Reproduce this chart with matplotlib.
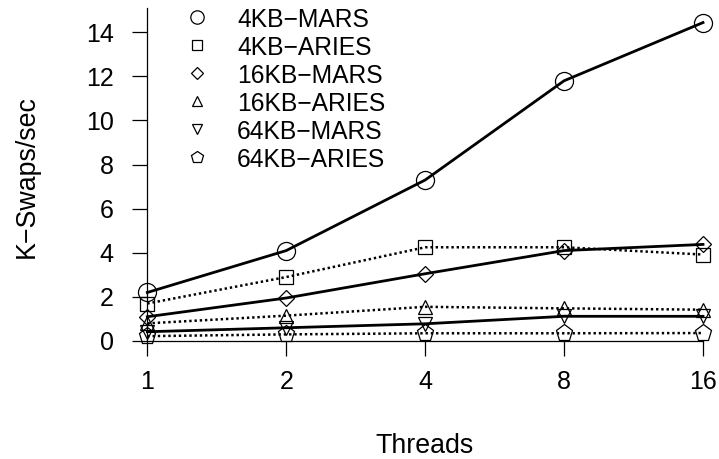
import numpy as np
import matplotlib.pyplot as plt
from matplotlib.lines import Line2D

plt.rcParams['font.family'] = ['Liberation Sans', 'DejaVu Sans']

# swap throughput (thousands of swaps per second) per thread count
threads = ['1', '2', '4', '8', '16']
mars_4kb = [2.2, 4.1, 7.3, 11.8, 14.44]
aries_4kb = [1.7, 2.9, 4.25, 4.25, 3.92]
mars_16kb = [1.1, 1.95, 3.05, 4.1, 4.38]
aries_16kb = [0.8, 1.15, 1.55, 1.48, 1.42]
mars_64kb = [0.42, 0.6, 0.78, 1.12, 1.12]
aries_64kb = [0.22, 0.3, 0.35, 0.35, 0.36]

labels = ['4KB\u2212MARS', '4KB\u2212ARIES', '16KB\u2212MARS',
          '16KB\u2212ARIES', '64KB\u2212MARS', '64KB\u2212ARIES']
values = [mars_4kb, aries_4kb, mars_16kb, aries_16kb, mars_64kb, aries_64kb]
markers = ['o', 's', 'D', '^', 'v', 'p']
msizes = [13, 9.6, 8.4, 10.5, 10.5, 12.5]
dotted = (0, (0.95, 1.15))
styles = ['-', dotted, '-', dotted, '-', dotted]
widths = [2.0, 1.8, 2.0, 1.8, 2.0, 1.8]

W, H = 719, 459
fig = plt.figure(figsize=(W / 100, H / 100), dpi=100)
ax = fig.add_axes([147.3 / W, 118 / H, 555.7 / W, 333 / H])

x = np.arange(len(threads))
for vals, m, ms, ls, lw in zip(values, markers, msizes, styles, widths):
    ax.plot(x, vals, color='black', lw=lw, ls=ls, dash_capstyle='butt',
            marker=m, ms=ms, mfc='none', mec='black', mew=0.9, clip_on=False)

ax.set_xlim(0, 4)
ax.set_ylim(0, 15.1)
ax.set_xticks(x, threads)
ax.set_yticks(range(0, 15, 2))
for side in ['top', 'right']:
    ax.spines[side].set_visible(False)
for side in ['left', 'bottom']:
    ax.spines[side].set_linewidth(0.9)
ax.tick_params(axis='both', length=10.8, width=0.9, labelsize=18)
ax.tick_params(axis='x', pad=10)
ax.tick_params(axis='y', pad=13.5)

fig.text(26.5 / W, 1 - 176.5 / H, 'K\u2212Swaps/sec', rotation=90,
         ha='center', va='center', fontsize=19.3)
fig.text(425 / W, 6.3 / H, 'Threads', ha='center', va='baseline', fontsize=19.3)

# legend without frame, markers only
for i, (lab, m, ms) in enumerate(zip(labels, markers, msizes)):
    ypix = 17 + 28 * i
    fig.add_artist(Line2D([196.7 / W], [1 - ypix / H], transform=fig.transFigure,
                          marker=m, ms=ms * 0.74, mfc='none', mec='black', mew=0.9,
                          ls='none'))
    fig.text(237 / W, 1 - (ypix + 10) / H, lab, fontsize=17.7, va='baseline')

fig.savefig('out.png', dpi=100)
